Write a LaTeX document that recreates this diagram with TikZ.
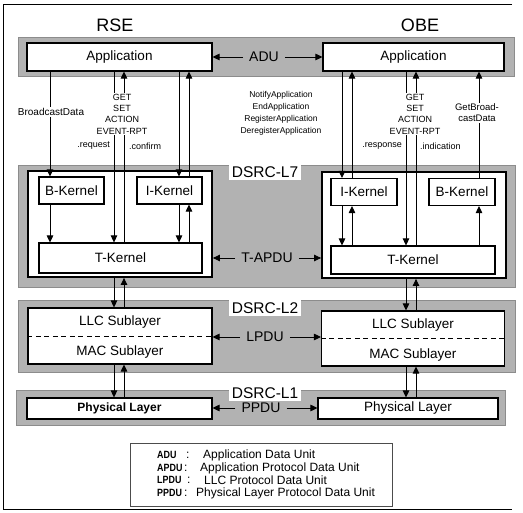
\documentclass[tikz,border=0pt]{standalone}
\usepackage{fontspec}
\setmainfont{Liberation Sans}
\newfontfamily\condbf[FakeStretch=0.85]{Liberation Sans Bold}
\usetikzlibrary{arrows.meta,calc}
\begin{document}
\begin{tikzpicture}[x=1pt,y=-1pt,
  band/.style={fill=black!30,draw=black!45,line width=0.5pt},
  box/.style={draw,line width=1.1pt,fill=white,inner sep=0pt,font=\fontsize{13.5}{15}\selectfont},
  inbox/.style={draw,line width=1.8pt,fill=white,inner sep=0pt},
  lbl/.style={fill=white,inner sep=2.5pt,font=\fontsize{15.5}{17}\selectfont},
  pdu/.style={inner ysep=1pt,inner xsep=6pt,font=\fontsize{14}{16}\selectfont},
  arr/.style={-{Triangle[length=7pt,width=6.5pt]},line width=0.9pt},
  ln/.style={line width=0.9pt},
  stack/.style={font=\fontsize{9}{11.3}\selectfont,align=center,inner sep=1pt},
  sfx/.style={font=\fontsize{9}{11}\selectfont,inner sep=1pt},
  lg/.style={font=\fontsize{12}{13}\selectfont,inner sep=0pt,anchor=west},
  lgab/.style={font=\fontsize{10.5}{13}\selectfont\condbf,inner sep=0pt,anchor=west},
  title/.style={font=\fontsize{18}{20}\selectfont}
]
\useasboundingbox (0,0) rectangle (523,513);
% frame
\draw[line width=0.7pt] (512,4) -- (3,4) -- (3,509) -- (512,509);
% titles
\node[title] (rse) at (115,25) {RSE};
\node[title] (obe) at (420,25) {OBE};
% bands
\path[band] (18,37) rectangle (514,76);
\path[band] (18,165) rectangle (515,287);
\path[band] (18,300) rectangle (515,372);
\path[band] (16,390) rectangle (505,425);
% band labels
\node[lbl] (l7) at (265,172) {DSRC-L7};
\node[lbl] (l2) at (265,308) {DSRC-L2};
\node[lbl] (l1) at (265,393) {DSRC-L1};
% application boxes
\node[box,minimum width=185pt,minimum height=28pt] (appr) at (119.5,57) {Application};
\node[box,minimum width=181pt,minimum height=28pt] (appo) at (413.5,57) {Application};
% L7 inner boxes
\node[inbox,minimum width=184pt,minimum height=106pt] (inr) at (120,224) {};
\node[inbox,minimum width=184pt,minimum height=106pt] (ino) at (414,225) {};
\node[box,minimum width=65pt,minimum height=27pt] (bkr) at (71.5,190.5) {B-Kernel};
\node[box,minimum width=65pt,minimum height=27pt] (ikr) at (169.5,190.5) {I-Kernel};
\node[box,minimum width=163pt,minimum height=30pt] (tkr) at (120.5,258) {T-Kernel};
\node[box,minimum width=66pt,minimum height=27pt] (iko) at (364,192) {I-Kernel};
\node[box,minimum width=66pt,minimum height=27pt] (bko) at (462,192) {B-Kernel};
\node[box,minimum width=164pt,minimum height=28pt] (tko) at (413,260) {T-Kernel};
% L2 boxes
\node[box,minimum width=184pt,minimum height=56pt] (lmr) at (120,336) {};
\node[box,minimum width=183pt,minimum height=55pt] (lmo) at (413,338.5) {};
\draw[dashed,line width=0.9pt,dash pattern=on 5pt off 3.5pt] (lmr.west) -- (lmr.east);
\draw[dashed,line width=0.9pt,dash pattern=on 5pt off 3.5pt] (lmo.west) -- (lmo.east);
\node[font=\fontsize{13.5}{15}\selectfont] (llcr) at (120,322) {LLC Sublayer};
\node[font=\fontsize{13.5}{15}\selectfont] (macr) at (120,352) {MAC Sublayer};
\node[font=\fontsize{13.5}{15}\selectfont] (llco) at (413,325) {LLC Sublayer};
\node[font=\fontsize{13.5}{15}\selectfont] (maco) at (413,355) {MAC Sublayer};
% L1 boxes
\node[box,minimum width=185pt,minimum height=21pt,font=\fontsize{12}{14}\selectfont\bfseries] (phyr) at (119.5,408.5) {Physical Layer};
\node[box,minimum width=180pt,minimum height=21pt] (phyo) at (408,408.5) {Physical Layer};
% PDU labels
\node[pdu] (adu) at (264,57) {ADU};
\node[pdu] (apdu) at (267,258) {T-APDU};
\node[pdu] (lpdu) at (265,337) {LPDU};
\node[pdu] (ppdu) at (261,408) {PPDU};
\draw[arr] (adu.west) -- (appr.east);
\draw[arr] (adu.east) -- (appo.west);
\draw[arr] (apdu.west) -- (apdu.west -| inr.east);
\draw[arr] (apdu.east) -- (apdu.east -| ino.west);
\draw[arr] (lpdu.west) -- (lpdu.west -| lmr.east);
\draw[arr] (lpdu.east) -- (lpdu.east -| lmo.west);
\draw[arr] (ppdu.west) -- (ppdu.west -| phyr.east);
\draw[arr] (ppdu.east) -- (ppdu.east -| phyo.west);
% text labels
\node[font=\fontsize{10}{12}\selectfont,inner sep=1pt] (bd) at (51,112) {BroadcastData};
\node[stack] (getr) at (122,114) {GET\\SET\\ACTION\\EVENT-RPT};
\node[stack] (geto) at (415,114) {GET\\SET\\ACTION\\EVENT-RPT};
\node[font=\fontsize{8.5}{12}\selectfont,align=center,inner sep=1pt] (nt) at (281,113) {NotifyApplication\\EndApplication\\RegisterApplication\\DeregisterApplication};
\node[font=\fontsize{9.5}{11}\selectfont,align=center,inner sep=1pt] (gb) at (477,113) {GetBroad-\\castData};
\node[sfx,anchor=east] (req) at (111,146) {.request};
\node[sfx,anchor=west] (cnf) at (128,146) {.confirm};
\node[sfx,anchor=east] (rsp) at (403,146) {.response};
\node[sfx,anchor=west] (ind) at (419,146) {.indication};
% x positions
\coordinate (xbd) at (50,0);
\coordinate (xrq) at (114,0);
\coordinate (xcf) at (124,0);
\coordinate (xid) at (179,0);
\coordinate (xiu) at (189,0);
\coordinate (xod) at (342,0);
\coordinate (xou) at (352,0);
\coordinate (xrs) at (406,0);
\coordinate (xin) at (416,0);
\coordinate (xgb) at (479,0);
% RSE connectors
\draw[ln] (xbd |- appr.south) -- (xbd |- bd.north);
\draw[arr] (xbd |- bd.south) -- (xbd |- bkr.north);
\draw[arr] (xbd |- bkr.south) -- (xbd |- tkr.north);
\draw[ln,line width=0.7pt] (xrq |- appr.south) -- (xrq |- getr.north);
\draw[arr,line width=0.7pt] (xrq |- getr.south) -- (xrq |- tkr.north);
\draw[ln] (xcf |- tkr.north) -- (xcf |- getr.south);
\draw[arr] (xcf |- getr.north) -- (xcf |- appr.south);
\draw[arr] (xid |- appr.south) -- (xid |- ikr.north);
\draw[arr] (xiu |- ikr.north) -- (xiu |- appr.south);
\draw[arr] (xid |- ikr.south) -- (xid |- tkr.north);
\draw[arr] (xiu |- tkr.north) -- (xiu |- ikr.south);
\draw[arr,line width=0.7pt] (xrq |- inr.south) -- (xrq |- lmr.north);
\draw[arr] (xcf |- lmr.north) -- (xcf |- inr.south);
\draw[arr,line width=0.7pt] (xrq |- lmr.south) -- (xrq |- phyr.north);
\draw[arr] (xcf |- phyr.north) -- (xcf |- lmr.south);
% OBE connectors
\draw[arr] (xod |- appo.south) -- (xod |- iko.north);
\draw[arr] (xou |- iko.north) -- (xou |- appo.south);
\draw[arr] (xod |- iko.south) -- (xod |- tko.north);
\draw[arr] (xou |- tko.north) -- (xou |- iko.south);
\draw[ln,line width=0.7pt] (xrs |- appo.south) -- (xrs |- geto.north);
\draw[arr,line width=0.7pt] (xrs |- geto.south) -- (xrs |- tko.north);
\draw[ln] (xin |- tko.north) -- (xin |- geto.south);
\draw[arr] (xin |- geto.north) -- (xin |- appo.south);
\draw[ln] (xgb |- bko.north) -- (xgb |- gb.south);
\draw[arr] (xgb |- gb.north) -- (xgb |- appo.south);
\draw[arr] (xgb |- tko.north) -- (xgb |- bko.south);
\draw[arr] (xrs |- ino.south) -- (xrs |- lmo.north);
\draw[arr] (xin |- lmo.north) -- (xin |- ino.south);
\draw[arr] (xrs |- lmo.south) -- (xrs |- phyo.north);
\draw[arr] (xin |- phyo.north) -- (xin |- lmo.south);
% legend
\node[draw=black!70,line width=0.6pt,minimum width=262pt,minimum height=63pt,inner sep=0pt] (legend) at (261,474.5) {};
\node[lgab] (la1) at (157,455) {ADU};
\node[lg] (lc1) at (186,455) {:};
\node[lg] (ld1) at (203,455) {Application Data Unit};
\node[lgab] (la2) at (157,468) {APDU};
\node[lg] (lc2) at (184,468) {:};
\node[lg] (ld2) at (200,468) {Application Protocol Data Unit};
\node[lgab] (la3) at (157,480) {LPDU};
\node[lg] (lc3) at (187,480) {:};
\node[lg] (ld3) at (204,480) {LLC Protocol Data Unit};
\node[lgab] (la4) at (157,493) {PPDU};
\node[lg] (lc4) at (184,493) {:};
\node[lg] (ld4) at (196,493) {Physical Layer Protocol Data Unit};
\end{tikzpicture}
\end{document}
